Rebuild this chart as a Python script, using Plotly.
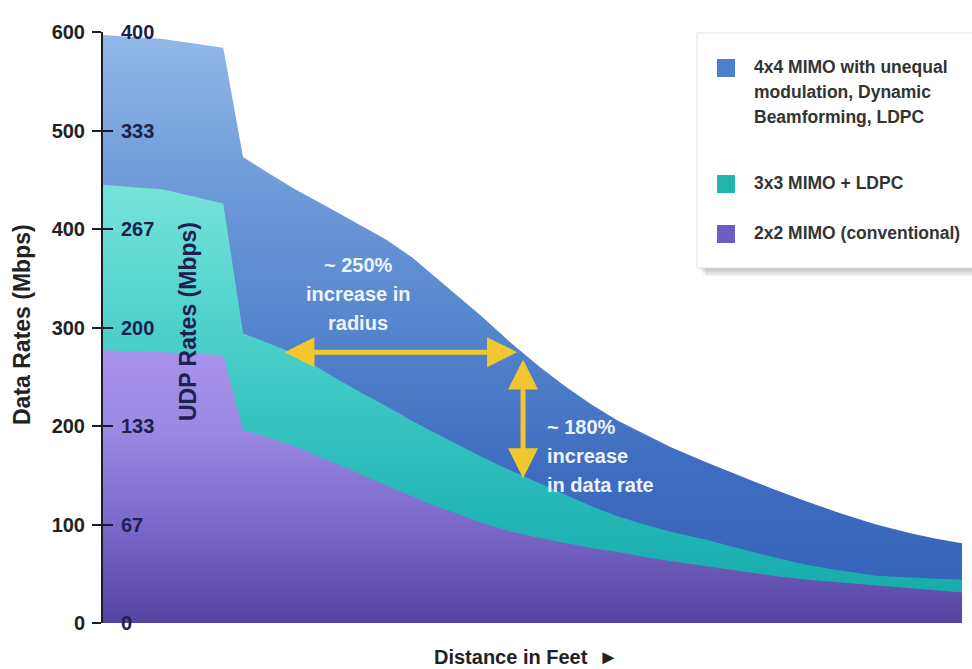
import plotly.graph_objects as go

# ---- data -------------------------------------------------------------
distance = [0, 7, 14, 16.3, 19, 22.4, 26, 30, 33, 36, 38, 40, 44, 47.4, 51, 54, 57,
            60, 63, 66, 70, 74, 78, 82, 86, 90, 94, 97, 100]

mimo_4x4 = [597, 593, 584, 473, 458, 440, 423, 404, 389, 371, 356, 342, 312, 285, 259, 239, 221,
            205, 192, 179, 164, 150, 136, 123, 111, 100, 91, 85.5, 81]
mimo_3x3 = [445, 440, 426, 294, 285, 273, 254, 234, 220, 205, 196, 187, 169, 155, 141, 129, 118,
            108, 100, 93, 85, 76, 67, 59, 53, 48, 46, 45, 44]
mimo_2x2 = [277, 275, 272, 196, 189, 179, 166, 151, 140, 129, 121, 115, 102, 93, 86, 81, 76,
            72, 67, 63, 58, 53, 48, 44, 41, 38, 35, 33, 31]

series_names = [
    "4x4 MIMO with unequal<br>modulation, Dynamic<br>Beamforming, LDPC",
    "3x3 MIMO + LDPC",
    "2x2 MIMO (conventional)",
]

data_rate_ticks = [0, 100, 200, 300, 400, 500, 600]
udp_tick_vals = [0, 400 / 6, 800 / 6, 200, 1600 / 6, 2000 / 6, 400]
udp_tick_text = ["0", "67", "133", "200", "267", "333", "400"]

# ---- styling ----------------------------------------------------------
FONT = "Arial Narrow, Liberation Sans Narrow, Liberation Sans, Arial, sans-serif"
W, H = 972, 669
ML, MR, MT, MB = 103, 10, 32, 46
PW, PH = W - ML - MR, H - MT - MB


def px_x(p):
    return (p - ML) / PW


def px_y(p):
    return (H - MB - p) / PH


fills = [
    [[0, "#3461b8"], [0.25, "#3d6cc0"], [0.5, "#5585cc"], [0.75, "#6f9bd9"], [1, "#93b9e8"]],
    [[0, "#14a8aa"], [0.25, "#23b6b5"], [0.55, "#40cac6"], [1, "#78e4db"]],
    [[0, "#5443a0"], [0.35, "#7b68c9"], [0.7, "#9a88e2"], [1, "#a993eb"]],
]
fill_tops = [600, 450, 280]
swatch_colors = ["#4d7fcb", "#22b5b0", "#6e5cc4"]

fig = go.Figure()

for ys, name, cs, top in zip([mimo_4x4, mimo_3x3, mimo_2x2], series_names, fills, fill_tops):
    fig.add_trace(go.Scatter(
        x=distance, y=ys, name=name.replace("<br>", " "),
        mode="lines", line=dict(width=0, color=cs[-1][1]),
        fill="tozeroy",
        fillgradient=dict(type="vertical", colorscale=cs, start=0, stop=top),
        hoverinfo="skip", showlegend=False,
    ))

# UDP scale: same curves are 2/3 of the PHY data rate; an empty trace keeps the axis live
fig.add_trace(go.Scatter(x=[0], y=[0], yaxis="y2", mode="markers",
                         marker=dict(opacity=0), hoverinfo="skip", showlegend=False))

fig.update_layout(
    width=W, height=H,
    margin=dict(l=ML, r=MR, t=MT, b=MB),
    paper_bgcolor="white", plot_bgcolor="rgba(0,0,0,0)",
    showlegend=False,
    xaxis=dict(range=[0, 100], visible=False, fixedrange=True),
    yaxis=dict(
        range=[0, 600], tickvals=data_rate_ticks,
        ticks="outside", ticklen=9, tickwidth=2, tickcolor="#1b1b2b",
        showline=True, linecolor="#1b1b2b", linewidth=2,
        showgrid=False, zeroline=False, ticklabelstandoff=3,
        tickfont=dict(family=FONT, size=20, color="#222222", weight="bold"),
    ),
    yaxis2=dict(
        range=[0, 400], overlaying="y", anchor="x", side="left",
        tickvals=udp_tick_vals, ticktext=udp_tick_text,
        ticks="inside", ticklen=10, tickwidth=2, tickcolor="#1b1b2b",
        ticklabelposition="inside", ticklabeloverflow="allow", ticklabelstandoff=9,
        showline=False, showgrid=False, zeroline=False,
        tickfont=dict(family=FONT, size=20, color="#1c2150", weight="bold"),
    ),
)

ann = []


def label(text, x, y, size, color, angle=0, xanchor="center"):
    ann.append(dict(text=text, x=px_x(x), y=px_y(y), xref="paper", yref="paper",
                    textangle=angle, showarrow=False, xanchor=xanchor, yanchor="middle",
                    font=dict(family=FONT, size=size, color=color, weight="bold")))


# axis titles
label("Data Rates (Mbps)", 22, 325, 23, "#222222", angle=-90)
label("UDP Rates (Mbps)", 188, 322, 23, "#1c2150", angle=-90)
label("Distance in Feet  \u25ba", 526, 657, 20, "#222222")

# callout arrows
ARROW = "#f0c72e"
ann.append(dict(x=48.2, y=275, ax=20.95, ay=275, xref="x", yref="y", axref="x", ayref="y",
                text="", showarrow=True, arrowhead=2, startarrowhead=2, arrowside="end+start",
                arrowsize=1.2, startarrowsize=1.2, arrowwidth=5, arrowcolor=ARROW))
ann.append(dict(x=48.9, y=147, ax=48.9, ay=269, xref="x", yref="y", axref="x", ayref="y",
                text="", showarrow=True, arrowhead=2, startarrowhead=2, arrowside="end+start",
                arrowsize=1.2, startarrowsize=1.2, arrowwidth=5, arrowcolor=ARROW))

for i, line in enumerate(["~ 250%", "increase in", "radius"]):
    label(line, 358, 265 + 29 * i, 20, "#eef3fb")
for i, line in enumerate(["~ 180%", "increase", "in data rate"]):
    label(line, 545, 427 + 29 * i, 20, "#eef3fb", xanchor="left")

# legend panel
shapes = []
for k, a in enumerate([0.05, 0.05, 0.06, 0.07]):
    off = 2 + 2 * k
    shapes.append(dict(type="rect", xref="paper", yref="paper", layer="above",
                       x0=px_x(697 + off), x1=px_x(980), y0=px_y(268 + off), y1=px_y(33 + off),
                       line=dict(width=0), fillcolor=f"rgba(0,0,0,{a})"))
shapes.append(dict(type="rect", xref="paper", yref="paper", layer="above",
                   x0=px_x(697), x1=px_x(980), y0=px_y(268), y1=px_y(33),
                   line=dict(width=1, color="#e2e2e2"), fillcolor="white"))

item_tops = [67, 183, 233]
for name, col, ty in zip(series_names, swatch_colors, item_tops):
    shapes.append(dict(type="rect", xref="paper", yref="paper", layer="above",
                       x0=px_x(717), x1=px_x(735), y0=px_y(ty + 10), y1=px_y(ty - 8),
                       line=dict(width=0), fillcolor=col))
    for j, line in enumerate(name.split("<br>")):
        label(line, 752, ty + 25 * j, 17.5, "#333333", xanchor="left")

fig.update_layout(annotations=ann, shapes=shapes)

fig.write_html("out.html")
